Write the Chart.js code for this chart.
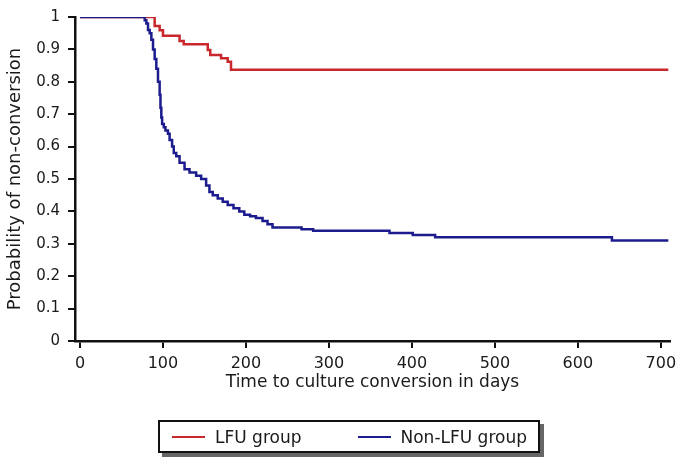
<!DOCTYPE html>
<html lang="en">
<head>
<meta charset="UTF-8">
<title>Culture conversion</title>
<script src="https://cdn.jsdelivr.net/npm/chart.js"></script>
<style>
  html, body { margin: 0; padding: 0; background: #fff; }
  #wrap { position: relative; width: 683px; height: 465px; }
  #legend {
    position: absolute; left: 158px; top: 420px; width: 366px; height: 29px;
    border: 2px solid #111; box-shadow: 4px 4px 0 #666; background: #fff;
    font-family: "DejaVu Sans", sans-serif; font-size: 17px; color: #1a1a1a;
    display: flex; align-items: center; padding-left: 12px; box-sizing: content-box;
  }
  .sw { display: inline-block; width: 33px; height: 2px; margin-right: 10px; }
</style>
</head>
<body>
<div id="wrap">
  <canvas id="km" width="683" height="465"></canvas>
  <div id="legend">
    <span class="sw" style="background:#c8282c"></span><span style="margin-right:57px">LFU group</span>
    <span class="sw" style="background:#1c1c8e;margin-right:9px"></span><span>Non-LFU group</span>
  </div>
</div>
<script>
  // Kaplan-Meier curves (days, survival)
  const lfuDays = [0, 90, 96, 100, 120, 125, 154, 157, 170, 178, 182, 709];
  const lfuSurv = [1, 0.972, 0.959, 0.942, 0.926, 0.916, 0.898, 0.883, 0.873, 0.862, 0.837, 0.837];

  const nonLfuDays = [0, 78, 80, 82, 84, 86, 88, 90, 92, 94, 96, 97, 98, 99, 101, 103, 106, 108, 111, 113, 116, 120, 126, 132, 140, 146, 152, 156, 160, 166, 172, 178, 185, 192, 198, 205, 212, 220, 226, 232, 267, 281, 373, 401, 428, 641, 709];
  const nonLfuSurv = [1, 0.99, 0.98, 0.96, 0.95, 0.93, 0.90, 0.87, 0.84, 0.80, 0.76, 0.72, 0.69, 0.67, 0.66, 0.65, 0.64, 0.62, 0.60, 0.58, 0.57, 0.55, 0.53, 0.52, 0.51, 0.50, 0.48, 0.46, 0.45, 0.44, 0.43, 0.42, 0.41, 0.40, 0.39, 0.385, 0.38, 0.37, 0.36, 0.35, 0.345, 0.34, 0.333, 0.327, 0.32, 0.31, 0.31];

  const xTicks = [0, 100, 200, 300, 400, 500, 600, 700];
  const yTicks = [0, 0.1, 0.2, 0.3, 0.4, 0.5, 0.6, 0.7, 0.8, 0.9, 1];

  const toPoints = (xs, ys) => xs.map((x, i) => ({ x: x, y: ys[i] }));

  const axisGrid = { drawOnChartArea: false, drawTicks: true, tickLength: 7, color: '#111', lineWidth: 2 };

  new Chart(document.getElementById('km'), {
    type: 'line',
    data: {
      datasets: [{
        label: 'LFU group',
        data: toPoints(lfuDays, lfuSurv),
        borderColor: '#c8282c',
        borderWidth: 2.5,
        stepped: true,
        pointRadius: 0,
        order: 1
      }, {
        label: 'Non-LFU group',
        data: toPoints(nonLfuDays, nonLfuSurv),
        borderColor: '#1c1c8e',
        borderWidth: 2.5,
        stepped: true,
        pointRadius: 0,
        order: 0
      }]
    },
    options: {
      responsive: false,
      animation: false,
      layout: { padding: { left: 0, right: 13, top: 15, bottom: 64 } },
      plugins: { legend: { display: false }, tooltip: { enabled: false } },
      scales: {
        x: {
          type: 'linear',
          min: -6,
          max: 711,
          afterBuildTicks: s => { s.ticks = xTicks.map(v => ({ value: v })); },
          afterFit: s => { s.height = 60; },
          grid: axisGrid,
          border: { display: true, color: '#111', width: 2.5 },
          ticks: { color: '#1a1a1a', font: { family: 'DejaVu Sans', size: 16 }, padding: 6, maxRotation: 0 },
          title: {
            display: true,
            text: 'Time to culture conversion in days',
            color: '#1a1a1a',
            font: { family: 'DejaVu Sans', size: 17 },
            padding: { top: 0, bottom: 8 }
          }
        },
        y: {
          min: 0,
          max: 1,
          afterBuildTicks: s => { s.ticks = yTicks.map(v => ({ value: v })); },
          afterFit: s => { s.width = 75; },
          grid: axisGrid,
          border: { display: true, color: '#111', width: 2.5 },
          ticks: { color: '#1a1a1a', font: { family: 'DejaVu Sans', size: 15 }, padding: 8, callback: v => String(v) },
          title: {
            display: true,
            text: 'Probability of non-conversion',
            color: '#1a1a1a',
            font: { family: 'DejaVu Sans', size: 18 },
            padding: { top: 5, bottom: 0 }
          }
        }
      }
    }
  });
</script>
</body>
</html>
